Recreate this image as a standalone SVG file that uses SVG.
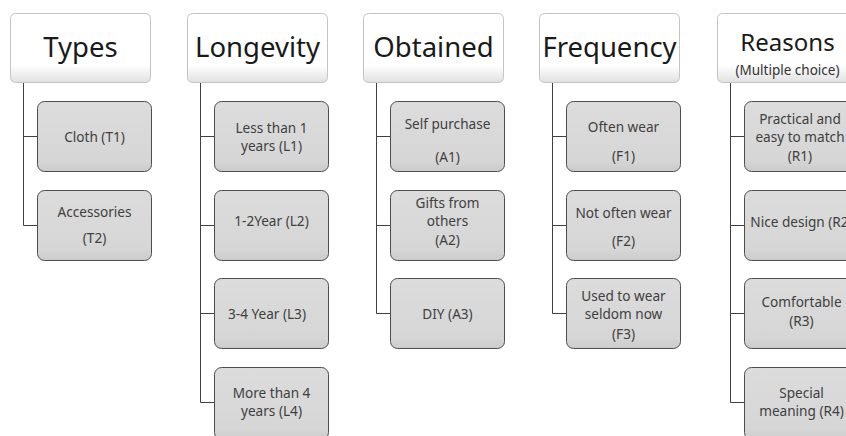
<svg xmlns="http://www.w3.org/2000/svg" width="846" height="436" viewBox="0 0 846 436">
<defs>
<linearGradient id="hg" x1="0" y1="0" x2="0" y2="1">
<stop offset="0" stop-color="#ffffff"/>
<stop offset="0.75" stop-color="#ffffff"/>
<stop offset="1" stop-color="#e0e0e0"/>
</linearGradient>
<linearGradient id="cg" x1="0" y1="0" x2="0" y2="1">
<stop offset="0" stop-color="#dcdcdc"/>
<stop offset="0.85" stop-color="#d6d6d6"/>
<stop offset="1" stop-color="#cbcbcb"/>
</linearGradient>
</defs>
<style>
.hd{fill:url(#hg);stroke:#c4c4c4;stroke-width:1}
.ch{fill:url(#cg);stroke:#4d4d4d;stroke-width:1}
.ht{font-family:"Noto Sans","Open Sans",sans-serif;font-size:27.5px;fill:#1a1a1a;text-anchor:middle}
.hs{font-family:"Noto Sans","Open Sans",sans-serif;font-size:13.5px;fill:#333333;text-anchor:middle}
.ct{font-family:"Noto Sans","Open Sans",sans-serif;font-size:13.6px;fill:#404040;text-anchor:middle}
.cn{fill:none;stroke:#404040;stroke-width:1}
</style>
<rect width="846" height="436" fill="#ffffff"/>
<g id="connectors">
<path class="cn" d="M23.5 83V225.5H37"/>
<path class="cn" d="M23.5 136.5H37"/>
<path class="cn" d="M200.5 83V402.5H214"/>
<path class="cn" d="M200.5 136.5H214M200.5 225.5H214M200.5 313.5H214"/>
<path class="cn" d="M376.5 83V313.5H390"/>
<path class="cn" d="M376.5 136.5H390M376.5 225.5H390"/>
<path class="cn" d="M552.5 83V313.5H566"/>
<path class="cn" d="M552.5 136.5H566M552.5 225.5H566"/>
<path class="cn" d="M730.5 83V402.5H744"/>
<path class="cn" d="M730.5 136.5H744M730.5 225.5H744M730.5 313.5H744"/>
</g>
<g id="types">
<rect class="hd" x="10.5" y="13.5" width="140" height="69" rx="5"/>
<text class="ht" x="80.5" y="57">Types</text>
</g>
<g id="t1">
<rect class="ch" x="37.5" y="101.5" width="114" height="70" rx="7"/>
<text class="ct" x="94.5" y="141.5">Cloth (T1)</text>
</g>
<g id="t2">
<rect class="ch" x="37.5" y="190.5" width="114" height="70" rx="7"/>
<text class="ct" x="94.5" y="217">Accessories</text>
<text class="ct" x="94.5" y="243">(T2)</text>
</g>
<g id="longevity">
<rect class="hd" x="187.5" y="13.5" width="140" height="69" rx="5"/>
<text class="ht" x="257.5" y="57">Longevity</text>
</g>
<g id="l1">
<rect class="ch" x="214.5" y="101.5" width="114" height="70" rx="7"/>
<text class="ct" x="271.5" y="132.5">Less than 1</text>
<text class="ct" x="271.5" y="151">years (L1)</text>
</g>
<g id="l2">
<rect class="ch" x="214.5" y="190.5" width="114" height="70" rx="7"/>
<text class="ct" x="271.5" y="226">1-2Year (L2)</text>
</g>
<g id="l3">
<rect class="ch" x="214.5" y="278.5" width="114" height="70" rx="7"/>
<text class="ct" x="267" y="318.5">3-4 Year (L3)</text>
</g>
<g id="l4">
<rect class="ch" x="214.5" y="367.5" width="114" height="72" rx="7"/>
<text class="ct" x="271.5" y="397.5">More than 4</text>
<text class="ct" x="271.5" y="416">years (L4)</text>
</g>
<g id="obtained">
<rect class="hd" x="363.5" y="13.5" width="140" height="69" rx="5"/>
<text class="ht" x="433.5" y="57">Obtained</text>
</g>
<g id="a1">
<rect class="ch" x="390.5" y="101.5" width="114" height="70" rx="7"/>
<text class="ct" x="447.5" y="129">Self purchase</text>
<text class="ct" x="447.5" y="161.5">(A1)</text>
</g>
<g id="a2">
<rect class="ch" x="390.5" y="190.5" width="114" height="70" rx="7"/>
<text class="ct" x="447.5" y="207.5">Gifts from</text>
<text class="ct" x="447.5" y="226">others</text>
<text class="ct" x="447.5" y="244.5">(A2)</text>
</g>
<g id="a3">
<rect class="ch" x="390.5" y="278.5" width="114" height="70" rx="7"/>
<text class="ct" x="447.5" y="318.5">DIY (A3)</text>
</g>
<g id="frequency">
<rect class="hd" x="539.5" y="13.5" width="140" height="69" rx="5"/>
<text class="ht" x="609.5" y="57">Frequency</text>
</g>
<g id="f1">
<rect class="ch" x="566.5" y="101.5" width="114" height="70" rx="7"/>
<text class="ct" x="623.5" y="132">Often wear</text>
<text class="ct" x="623.5" y="160.5">(F1)</text>
</g>
<g id="f2">
<rect class="ch" x="566.5" y="190.5" width="114" height="70" rx="7"/>
<text class="ct" x="623.5" y="218">Not often wear</text>
<text class="ct" x="623.5" y="245.5">(F2)</text>
</g>
<g id="f3">
<rect class="ch" x="566.5" y="278.5" width="114" height="70" rx="7"/>
<text class="ct" x="623.5" y="300.5">Used to wear</text>
<text class="ct" x="623.5" y="319">seldom now</text>
<text class="ct" x="623.5" y="338.5">(F3)</text>
</g>
<g id="reasons">
<rect class="hd" x="717.5" y="13.5" width="140" height="69" rx="5"/>
<text class="ht" x="787.5" y="51" style="font-size:24px">Reasons</text>
<text class="hs" x="787.5" y="75">(Multiple choice)</text>
</g>
<g id="r1">
<rect class="ch" x="744.5" y="101.5" width="114" height="70" rx="7"/>
<text class="ct" x="800" y="123.5">Practical and</text>
<text class="ct" x="800" y="142">easy to match</text>
<text class="ct" x="800" y="160.5">(R1)</text>
</g>
<g id="r2">
<rect class="ch" x="744.5" y="190.5" width="114" height="70" rx="7"/>
<text class="ct" x="801.5" y="227">Nice design (R2)</text>
</g>
<g id="r3">
<rect class="ch" x="744.5" y="278.5" width="114" height="70" rx="7"/>
<text class="ct" x="801.5" y="307">Comfortable</text>
<text class="ct" x="801.5" y="325.5">(R3)</text>
</g>
<g id="r4">
<rect class="ch" x="744.5" y="367.5" width="114" height="72" rx="7"/>
<text class="ct" x="801.5" y="397.5">Special</text>
<text class="ct" x="801.5" y="416">meaning (R4)</text>
</g>
</svg>
